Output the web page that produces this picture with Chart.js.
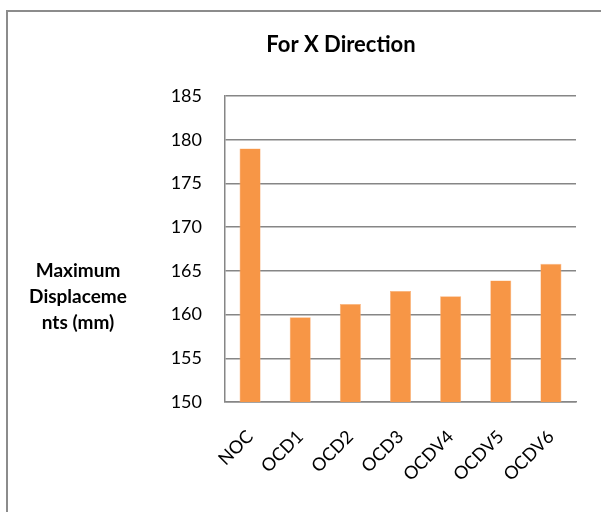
<!DOCTYPE html>
<html>
<head>
<meta charset="utf-8">
<script src="https://cdn.jsdelivr.net/npm/chart.js@4.4.1/dist/chart.umd.min.js"></script>
<style>
html,body{margin:0;padding:0;background:#fff;overflow:hidden;width:601px;height:512px;}
#frame{position:absolute;left:6px;top:10px;width:700px;height:600px;border:2px solid #8c8c8c;box-sizing:border-box;}
#c{position:absolute;left:0;top:0;}
</style>
</head>
<body>
<div id="frame"></div>
<canvas id="c" width="601" height="512"></canvas>
<script>
const categories = ["NOC", "OCD1", "OCD2", "OCD3", "OCDV4", "OCDV5", "OCDV6"];
const displacementX = [179, 159.7, 161.2, 162.7, 162.1, 163.9, 165.8];
const chartTitle = "For X Direction";
const yTitleLines = ["Maximum", "Displaceme", "nts (mm)"];
const yMin = 150, yMax = 185, yStep = 5;

const FONT = "Lato, 'Open Sans', sans-serif";
const GRID = "#868686";

const textPlugin = {
  id: "textPlugin",
  afterDraw(chart) {
    const ctx = chart.ctx;
    ctx.save();
    ctx.fillStyle = "#000";
    ctx.textAlign = "center";
    ctx.textBaseline = "middle";
    ctx.font = "bold 22px " + FONT;
    ctx.fillText(chartTitle, 341, 45);
    ctx.font = "bold 19px " + FONT;
    yTitleLines.forEach((t, i) => ctx.fillText(t, 78, 271 + i * 26));
    ctx.restore();
  }
};

new Chart(document.getElementById("c"), {
  type: "bar",
  data: {
    labels: categories,
    datasets: [{
      data: displacementX,
      backgroundColor: "#F79646",
      borderColor: "#FAB27A",
      borderWidth: 0.6,
      barPercentage: 0.42,
      categoryPercentage: 1
    }]
  },
  options: {
    responsive: false,
    animation: false,
    layout: { padding: { left: 0, top: 96, right: 25, bottom: 0 } },
    plugins: { legend: { display: false }, title: { display: false }, tooltip: { enabled: false } },
    scales: {
      x: {
        grid: { display: false, drawTicks: false },
        border: { display: true, color: GRID, width: 1.5 },
        ticks: {
          color: "#000", font: { family: FONT, size: 18 },
          minRotation: 45, maxRotation: 45, autoSkip: false, padding: 24
        },
        afterFit(s) { s.height = 110; s.paddingLeft = 0; s.paddingRight = 0; }
      },
      y: {
        min: yMin, max: yMax,
        grid: { color: GRID, lineWidth: 1.5, drawTicks: false },
        border: { display: true, color: GRID, width: 1.5 },
        ticks: { stepSize: yStep, color: "#000", font: { family: FONT, size: 18 }, padding: 23 },
        afterFit(s) { s.width = 225; s.paddingTop = 0; s.paddingBottom = 0; }
      }
    }
  },
  plugins: [textPlugin]
});
</script>
</body>
</html>
